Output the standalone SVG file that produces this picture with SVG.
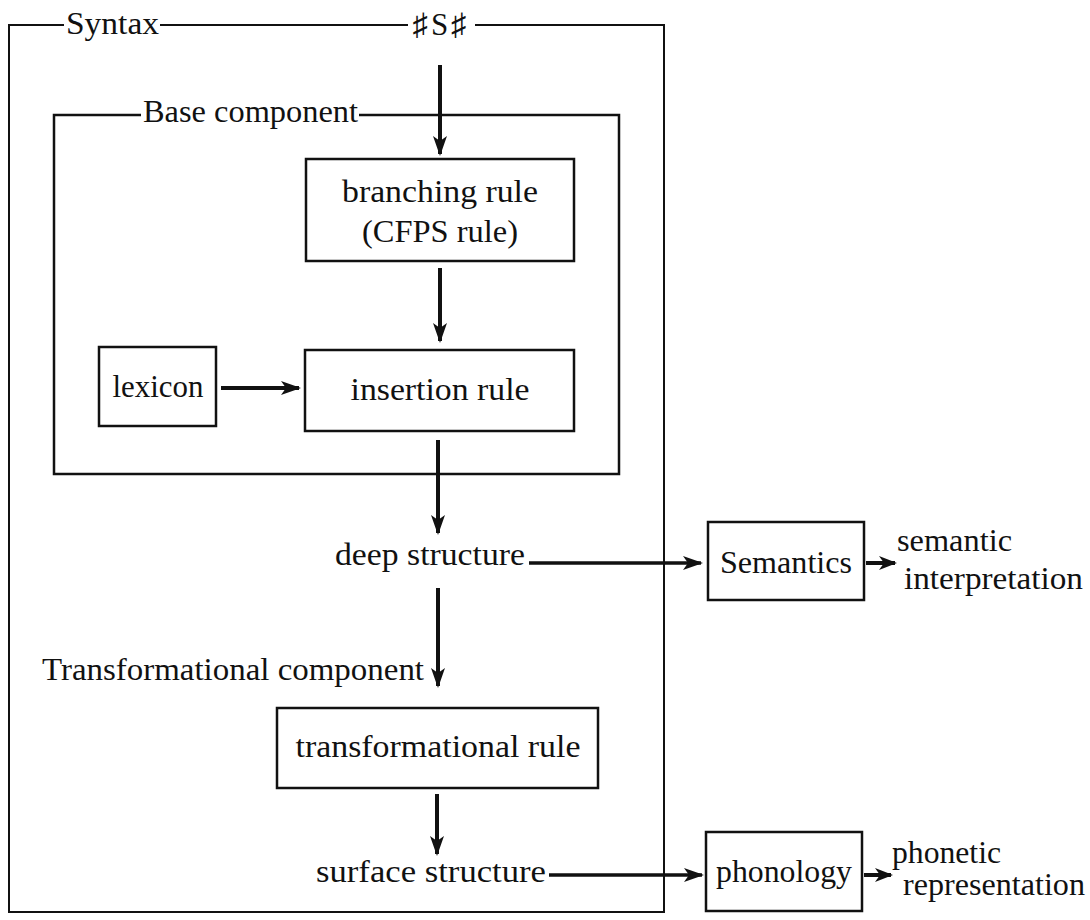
<svg xmlns="http://www.w3.org/2000/svg" width="1090" height="920" viewBox="0 0 1090 920">
<style>
.frame{fill:none;stroke:#111;stroke-width:2}
.box{fill:none;stroke:#111;stroke-width:2.5}
.t{font-family:"Liberation Serif","DejaVu Serif",serif;font-size:31px;fill:#111}
.c{text-anchor:middle}
.arr{fill:none;stroke:#111;stroke-width:4}
.arrh{fill:none;stroke:#111;stroke-width:3.5}
</style>
<defs>
<marker id="ah" viewBox="0 0 20 14" refX="18" refY="7" markerWidth="20" markerHeight="14" markerUnits="userSpaceOnUse" orient="auto">
<path d="M0,0 L20,7 L0,14 L5,7 z" fill="#111"/>
</marker>
<marker id="ahs" viewBox="0 0 18 16" refX="16" refY="8" markerWidth="18" markerHeight="16" markerUnits="userSpaceOnUse" orient="auto">
<path d="M0,1 L18,8 L0,15 L5,8 z" fill="#111"/>
</marker>
</defs>
<rect width="1090" height="920" fill="#fff"/>

<g id="syntax">
<path class="frame" d="M64 25 H9 V912 H664 V25 H475 M160 25 H408"/>
<text class="t" x="66" y="34" textLength="93" lengthAdjust="spacingAndGlyphs">Syntax</text>
<text class="t c" x="441" y="35" letter-spacing="3">♯S♯</text>
</g>

<g id="base">
<path class="box" d="M141 115 H54 V474 H619 V115 H359"/>
<text class="t" x="143" y="122" textLength="215" lengthAdjust="spacingAndGlyphs">Base component</text>
</g>

<g id="branching">
<rect class="box" x="306" y="159" width="268" height="102"/>
<text class="t c" x="440" y="202" textLength="196" lengthAdjust="spacingAndGlyphs">branching rule</text>
<text class="t c" x="440" y="242" textLength="156" lengthAdjust="spacingAndGlyphs">(CFPS rule)</text>
</g>

<g id="insertion">
<rect class="box" x="305" y="350" width="269" height="81"/>
<text class="t c" x="440" y="400" textLength="179" lengthAdjust="spacingAndGlyphs">insertion rule</text>
</g>

<g id="lexicon">
<rect class="box" x="99" y="347" width="117" height="79"/>
<text class="t c" x="158" y="397" textLength="91" lengthAdjust="spacingAndGlyphs">lexicon</text>
</g>

<g id="deep">
<text class="t" x="335" y="565" textLength="190" lengthAdjust="spacingAndGlyphs">deep structure</text>
</g>

<g id="semantics">
<rect class="box" x="708" y="522" width="156" height="78"/>
<text class="t c" x="786" y="573" textLength="132" lengthAdjust="spacingAndGlyphs">Semantics</text>
</g>

<g id="semint">
<text class="t" x="897" y="551" textLength="115" lengthAdjust="spacingAndGlyphs">semantic</text>
<text class="t" x="904" y="589" textLength="179" lengthAdjust="spacingAndGlyphs">interpretation</text>
</g>

<g id="transcomp">
<text class="t" x="42" y="680" textLength="382" lengthAdjust="spacingAndGlyphs">Transformational component</text>
</g>

<g id="transrule">
<rect class="box" x="277" y="708" width="321" height="80"/>
<text class="t c" x="438" y="757" textLength="285" lengthAdjust="spacingAndGlyphs">transformational rule</text>
</g>

<g id="surface">
<text class="t" x="316" y="882" textLength="230" lengthAdjust="spacingAndGlyphs">surface structure</text>
</g>

<g id="phonology">
<rect class="box" x="706" y="832" width="156" height="79"/>
<text class="t c" x="784" y="882" textLength="136" lengthAdjust="spacingAndGlyphs">phonology</text>
</g>

<g id="phonrep">
<text class="t" x="892" y="863" textLength="109" lengthAdjust="spacingAndGlyphs">phonetic</text>
<text class="t" x="903" y="895" textLength="182" lengthAdjust="spacingAndGlyphs">representation</text>
</g>

<g id="connectors">
<line class="arr" x1="440" y1="65" x2="440" y2="154" marker-end="url(#ah)"/>
<line class="arr" x1="440" y1="268" x2="440" y2="341" marker-end="url(#ah)"/>
<line class="arr" x1="221" y1="388" x2="299" y2="388" marker-end="url(#ah)"/>
<line class="arr" x1="438" y1="440" x2="438" y2="533" marker-end="url(#ah)"/>
<line class="arrh" x1="529" y1="563" x2="701" y2="563" marker-end="url(#ah)"/>
<line class="arr" x1="866" y1="563" x2="895" y2="563" marker-end="url(#ahs)"/>
<line class="arr" x1="438" y1="588" x2="438" y2="686" marker-end="url(#ah)"/>
<line class="arr" x1="437" y1="794" x2="437" y2="854" marker-end="url(#ah)"/>
<line class="arrh" x1="549" y1="875" x2="702" y2="875" marker-end="url(#ah)"/>
<line class="arr" x1="864" y1="875" x2="891" y2="875" marker-end="url(#ahs)"/>
</g>
</svg>
